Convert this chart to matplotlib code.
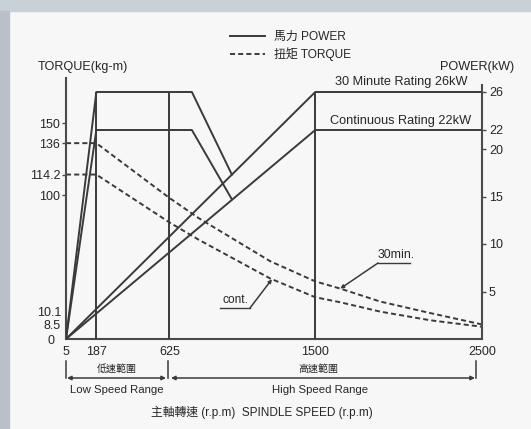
import matplotlib
matplotlib.use('Agg')
import matplotlib.pyplot as plt
from matplotlib.lines import Line2D
from matplotlib.patches import Rectangle, FancyArrowPatch

# ---------------- data ----------------
speed_ticks = [5, 187, 625, 1500, 2500]
speed_tick_labels = ['5', '187', '625', '1500', '2500']

# power (kW) – low speed range
low_rpm = [5, 187, 760, 1000]
low_30min_kw = [0, 26, 26, 17.3]
low_cont_kw = [0, 22, 22, 14.7]
# power (kW) – high speed range
high_rpm = [5, 1500, 2500]
high_30min_kw = [0, 26, 26]
high_cont_kw = [0, 22, 22]
# range boundary verticals (rpm) up to 26 kW
boundary_rpm = [187, 625, 1500]
boundary_top_kw = 26

# torque (kg-m)
torque_rpm = [5, 187, 625, 800, 1230, 1500, 1650, 1890, 2190, 2500]
torque_30min = [136, 136, 98, 84, 54, 40, 35, 26, 18, 10.1]
torque_cont = [114.2, 114.2, 81, 69, 42, 29, 25.5, 19, 13, 8.5]

torque_ticks = [100, 114.2, 136, 150]
torque_tick_labels = ['100', '114.2', '136', '150']
power_ticks = [5, 10, 15, 20, 22, 26]
power_tick_labels = ['5', '10', '15', '20', '22', '26']

# ---------------- style ----------------
FAM = ['Liberation Sans', 'Noto Sans CJK TC', 'DejaVu Sans']
plt.rcParams['font.family'] = FAM
TXT = '#262626'
LC = '#3a3a3a'
FS = 9.0

W, H = 531, 429
fig = plt.figure(figsize=(W / 100, H / 100), dpi=100, facecolor='#f7f7f7')


def fx(px):
    return px / W


def fy(py):
    return 1 - py / H


# photo border bands
fig.add_artist(Rectangle((0, fy(11)), 1, 11 / H, transform=fig.transFigure,
                         color='#c8d0d8', zorder=0))
fig.add_artist(Rectangle((0, 0), fx(9), fy(11), transform=fig.transFigure,
                         color='#b9c0c7', zorder=0))

ax = fig.add_axes([fx(66), fy(339), fx(482) - fx(66), (339 - 78) / H])
ax.set_facecolor('none')
ax2 = ax.twinx()

T_TOP = 181.25
P_TOP = T_TOP * 1.44 / 9.5
ax.set_xlim(5, 2500)
ax.set_ylim(0, T_TOP)
ax2.set_ylim(0, P_TOP)

dash = (0, (2.6, 1.6))
lw = 1.4
# power lines
ax2.plot(low_rpm, low_30min_kw, color=LC, lw=lw)
ax2.plot(low_rpm, low_cont_kw, color=LC, lw=lw)
ax2.plot(high_rpm, high_30min_kw, color=LC, lw=lw)
ax2.plot(high_rpm, high_cont_kw, color=LC, lw=lw)
ax2.vlines(boundary_rpm, 0, boundary_top_kw, color=LC, lw=lw)
# torque curves
ax.plot(torque_rpm, torque_30min, color=LC, lw=lw, ls=dash)
ax.plot(torque_rpm, torque_cont, color=LC, lw=lw, ls=dash)

# spines
for s in ['top', 'right']:
    ax.spines[s].set_visible(False)
for s in ['top', 'left', 'bottom']:
    ax2.spines[s].set_visible(False)
for sp in [ax.spines['left'], ax.spines['bottom'], ax2.spines['right']]:
    sp.set_color('#4a4a4a')
    sp.set_linewidth(1.5)
ax2.spines['right'].set_bounds(0, 26.7)

ax.set_xticks(speed_ticks)
ax.set_xticklabels(speed_tick_labels)
ax.tick_params(axis='x', length=0, pad=5, labelsize=FS, labelcolor=TXT)
ax.set_yticks(torque_ticks)
ax.set_yticklabels(torque_tick_labels)
ax.tick_params(axis='y', direction='out', length=3, width=1, pad=1.2,
               labelsize=FS, labelcolor=TXT, color='#4a4a4a')
ax2.set_yticks(power_ticks)
ax2.set_yticklabels(power_tick_labels)
ax2.tick_params(axis='y', direction='out', length=3, width=1, pad=2,
                labelsize=FS, labelcolor=TXT, color='#4a4a4a')

# crowded low torque labels
fig.text(fx(61), fy(313), '10.1', ha='right', va='center', fontsize=FS, color=TXT)
fig.text(fx(61), fy(326), '8.5', ha='right', va='center', fontsize=FS, color=TXT)
fig.text(fx(55), fy(341), '0', ha='right', va='center', fontsize=FS, color=TXT)

# axis titles
fig.text(fx(83), fy(67), 'TORQUE(kg-m)', ha='center', va='center', fontsize=9.1, color=TXT)
fig.text(fx(477), fy(67), 'POWER(kW)', ha='center', va='center', fontsize=9.1, color=TXT)
fig.text(fx(401), fy(82), '30 Minute Rating 26kW', ha='center', va='center',
         fontsize=9.2, color=TXT)
fig.text(fx(401), fy(121), 'Continuous Rating 22kW', ha='center', va='center',
         fontsize=9.2, color=TXT)

# legend
handles = [Line2D([], [], color=LC, lw=lw),
           Line2D([], [], color=LC, lw=lw, ls=dash)]
fig.legend(handles, ['馬力 POWER', '扭矩 TORQUE'], loc='upper left',
           bbox_to_anchor=(fx(224), fy(25)), frameon=False, fontsize=8.6,
           handlelength=2.9, handletextpad=0.8, labelspacing=0.35,
           borderpad=0, labelcolor=TXT)

# leaders
ax.annotate('', xy=(1650, 35), xytext=(fx(378), fy(263)), textcoords='figure fraction',
            arrowprops=dict(arrowstyle='-|>', color=LC, lw=1.1, mutation_scale=5,
                            shrinkA=0, shrinkB=0))
fig.add_artist(Line2D([fx(378), fx(410)], [fy(263), fy(263)], color=LC, lw=1))
fig.text(fx(396), fy(255), '30min.', ha='center', va='center', fontsize=8.8, color=TXT)

ax.annotate('', xy=(1240, 41.5), xytext=(fx(250), fy(308)), textcoords='figure fraction',
            arrowprops=dict(arrowstyle='-|>', color=LC, lw=1.1, mutation_scale=5,
                            shrinkA=0, shrinkB=0))
fig.add_artist(Line2D([fx(220), fx(250)], [fy(308), fy(308)], color=LC, lw=1))
fig.text(fx(235), fy(300), 'cont.', ha='center', va='center', fontsize=8.6, color=TXT)

# speed range brackets
for xb in [66, 168, 476]:
    fig.add_artist(Line2D([fx(xb), fx(xb)], [fy(361), fy(378)], color=LC, lw=1.1))
for xa, xb in [(67, 166), (171, 475)]:
    fig.add_artist(FancyArrowPatch((fx(xa), fy(378)), (fx(xb), fy(378)),
                                   transform=fig.transFigure, arrowstyle='<|-|>',
                                   mutation_scale=6, color=LC, lw=1.1,
                                   shrinkA=0, shrinkB=0))
fig.text(fx(117), fy(369), '低速範圍', ha='center', va='center', fontsize=7.2, color=TXT)
fig.text(fx(318), fy(369), '高速範圍', ha='center', va='center', fontsize=7.2, color=TXT)
fig.text(fx(117), fy(390), 'Low Speed Range', ha='center', va='center', fontsize=8.2, color=TXT)
fig.text(fx(320), fy(390), 'High Speed Range', ha='center', va='center', fontsize=8.2, color=TXT)
fig.text(fx(262), fy(412), '主軸轉速 (r.p.m)  SPINDLE SPEED (r.p.m)', ha='center',
         va='center', fontsize=8.5, color=TXT)

fig.savefig('out.png', dpi=100, facecolor=fig.get_facecolor())
